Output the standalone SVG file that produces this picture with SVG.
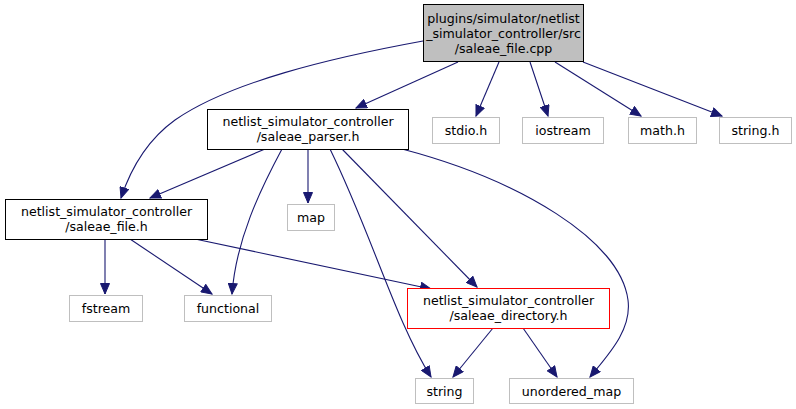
<svg xmlns="http://www.w3.org/2000/svg" width="796" height="409" viewBox="0 0 796 409">
<defs>
<marker id="arr" markerUnits="userSpaceOnUse" markerWidth="12" markerHeight="10" refX="11" refY="5" orient="auto">
<path d="M0.5,0.5 L11,5 L0.5,9.5 Z" fill="#191970" stroke="#191970" stroke-width="1"/>
</marker>
</defs>
<style>
text{font-family:"DejaVu Sans",sans-serif;font-size:12.6px;fill:#000;text-anchor:middle}
.e{fill:none;stroke:#191970;stroke-width:1.1;marker-end:url(#arr)}
.b{fill:#fff;stroke:#000;stroke-width:1}
.g{fill:#fff;stroke:#bfbfbf;stroke-width:1}
.r{fill:#fff;stroke:#ff0000;stroke-width:1}
.m{fill:#bfbfbf;stroke:#000;stroke-width:1}
</style>
<rect width="796" height="409" fill="#fff"/>
<g id="edges">
<path class="e" d="M423,41 C330,58 230,82 175,120 C150,138 132,165 121,198"/>
<path class="e" d="M458,62 L356,108"/>
<path class="e" d="M499,62 L476,116"/>
<path class="e" d="M530,62 L548,116"/>
<path class="e" d="M555,62 L641,116"/>
<path class="e" d="M583,62 L722,116"/>
<path class="e" d="M265,149 L150,198"/>
<path class="e" d="M308,149 L308,203"/>
<path class="e" d="M282,149 C260,190 236,240 232,294"/>
<path class="e" d="M330,149 C372,235 395,320 431,377"/>
<path class="e" d="M342,149 L477,287"/>
<path class="e" d="M402,149 C520,180 620,240 628,300 C632,330 608,355 590,377"/>
<path class="e" d="M105,239 L105,294"/>
<path class="e" d="M130,239 L212,294"/>
<path class="e" d="M195,239 L431,289"/>
<path class="e" d="M493,328 L453,377"/>
<path class="e" d="M523,328 L557,377"/>
</g>
<g id="n_main"><rect class="m" x="423.5" y="4.5" width="160" height="57"/>
<text x="503.5" y="23">plugins/simulator/netlist</text><text x="503.5" y="38">_simulator_controller/src</text><text x="503.5" y="53">/saleae_file.cpp</text></g>
<g id="n_parser"><rect class="b" x="207.5" y="109.5" width="201" height="40"/>
<text x="308" y="126">netlist_simulator_controller</text><text x="308" y="141">/saleae_parser.h</text></g>
<g id="n_file"><rect class="b" x="5.5" y="199.5" width="202" height="40"/>
<text x="106.5" y="216">netlist_simulator_controller</text><text x="106.5" y="231">/saleae_file.h</text></g>
<g id="n_dir"><rect class="r" x="407.5" y="288.5" width="202" height="40"/>
<text x="508.5" y="305">netlist_simulator_controller</text><text x="508.5" y="320">/saleae_directory.h</text></g>
<g id="n_stdio"><rect class="g" x="432.5" y="117.5" width="67" height="26"/><text x="466" y="135">stdio.h</text></g>
<g id="n_iostream"><rect class="g" x="522.5" y="117.5" width="81" height="26"/><text x="563" y="135">iostream</text></g>
<g id="n_math"><rect class="g" x="628.5" y="117.5" width="68" height="26"/><text x="662.5" y="135">math.h</text></g>
<g id="n_stringh"><rect class="g" x="719.5" y="117.5" width="72" height="26"/><text x="755.5" y="135">string.h</text></g>
<g id="n_map"><rect class="g" x="287.5" y="204.5" width="47" height="26"/><text x="311" y="222">map</text></g>
<g id="n_fstream"><rect class="g" x="69.5" y="295.5" width="73" height="26"/><text x="106" y="313">fstream</text></g>
<g id="n_functional"><rect class="g" x="184.5" y="295.5" width="87" height="26"/><text x="228" y="313">functional</text></g>
<g id="n_string"><rect class="g" x="415.5" y="378.5" width="58" height="25"/><text x="444.5" y="396">string</text></g>
<g id="n_umap"><rect class="g" x="509.5" y="378.5" width="124" height="25"/><text x="571.5" y="396">unordered_map</text></g>
</svg>
